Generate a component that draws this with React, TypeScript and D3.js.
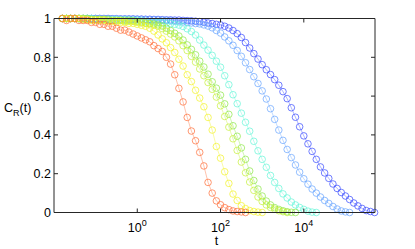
import React from 'react';
import * as d3 from 'd3';

// log10(t) sampling grid shared by every curve
const logT = [
  -1.8, -1.7, -1.6, -1.5, -1.4, -1.3, -1.2, -1.1, -1.0, -0.9, -0.8, -0.7, -0.6, -0.5, -0.4, -0.3, -0.2, -0.1,
  0, 0.1, 0.2, 0.3, 0.4, 0.5, 0.6, 0.7, 0.8, 0.9, 1.0, 1.1, 1.2, 1.3, 1.4, 1.5, 1.6, 1.7, 1.8, 1.9,
  2.0, 2.1, 2.2, 2.3, 2.4, 2.5, 2.6, 2.7, 2.8, 2.9, 3.0, 3.1, 3.2, 3.3, 3.4, 3.5, 3.6, 3.7, 3.8, 3.9,
  4.0, 4.1, 4.2, 4.3, 4.4, 4.5, 4.6, 4.7, 4.8, 4.9, 5.0, 5.1, 5.2, 5.3, 5.4, 5.5, 5.6, 5.7,
];

const orange = [
  1.00, 0.99, 1.00, 1.00, 0.99, 0.99, 0.99, 0.98, 0.98, 0.97, 0.97, 0.96, 0.96, 0.95, 0.94, 0.94, 0.93, 0.92,
  0.91, 0.90, 0.89, 0.88, 0.86, 0.845, 0.83, 0.80, 0.765, 0.71, 0.64, 0.57, 0.49, 0.42, 0.37, 0.31, 0.24, 0.155,
  0.10, 0.06, 0.04, 0.025, 0.015, 0.008, 0.005, 0.003, 0.0,
];

const yellow = [
  1.00, 1.00, 1.00, 1.00, 1.00, 0.995, 0.995, 0.99, 0.99, 0.99, 0.99, 0.985, 0.985, 0.98, 0.98, 0.98, 0.975, 0.975,
  0.97, 0.965, 0.96, 0.95, 0.935, 0.915, 0.895, 0.875, 0.85, 0.825, 0.79, 0.755, 0.71, 0.675, 0.63, 0.59, 0.545, 0.49,
  0.425, 0.34, 0.28, 0.21, 0.15, 0.095, 0.062, 0.035, 0.02, 0.01, 0.005, 0.002, 0.0,
];

const yellowGreen = [
  1.00, 1.00, 1.00, 1.00, 1.00, 1.00, 0.995, 0.995, 0.995, 0.995, 0.995, 0.99, 0.99, 0.99, 0.99, 0.985, 0.985, 0.985,
  0.98, 0.977, 0.975, 0.972, 0.966, 0.96, 0.948, 0.935, 0.92, 0.905, 0.885, 0.86, 0.835, 0.805, 0.775, 0.74, 0.705, 0.67,
  0.635, 0.595, 0.55, 0.495, 0.44, 0.38, 0.32, 0.26, 0.205, 0.157, 0.114, 0.08, 0.057, 0.039, 0.026, 0.017, 0.009, 0.004, 0.0,
];

const green = [
  1.00, 1.00, 1.00, 1.00, 1.00, 1.00, 1.00, 0.995, 0.995, 0.995, 0.995, 0.995, 0.99, 0.99, 0.99, 0.99, 0.99, 0.988,
  0.985, 0.982, 0.977, 0.974, 0.972, 0.967, 0.961, 0.95, 0.938, 0.924, 0.91, 0.889, 0.864, 0.841, 0.813, 0.78, 0.75, 0.713,
  0.674, 0.641, 0.605, 0.56, 0.506, 0.447, 0.393, 0.333, 0.274, 0.214, 0.165, 0.121, 0.085, 0.059, 0.039, 0.025, 0.016, 0.009,
  0.004, 0.001, 0.0,
];

const cyan = [
  1.00, 1.00, 1.00, 1.00, 1.00, 1.00, 1.00, 1.00, 0.995, 0.995, 0.995, 0.995, 0.995, 0.995, 0.993, 0.993, 0.992, 0.991,
  0.99, 0.988, 0.986, 0.984, 0.982, 0.98, 0.978, 0.976, 0.973, 0.97, 0.966, 0.959, 0.947, 0.933, 0.915, 0.889, 0.863, 0.837,
  0.81, 0.78, 0.749, 0.705, 0.659, 0.607, 0.561, 0.512, 0.465, 0.419, 0.367, 0.318, 0.274, 0.233, 0.191, 0.155, 0.124, 0.096,
  0.075, 0.054, 0.039, 0.026, 0.016, 0.007, 0.002, 0.0,
];

const lightBlue = [
  1.00, 1.00, 1.00, 1.00, 1.00, 1.00, 1.00, 1.00, 1.00, 1.00, 0.998, 0.998, 0.998, 0.997, 0.997, 0.997, 0.996, 0.996,
  0.995, 0.995, 0.994, 0.993, 0.993, 0.992, 0.991, 0.99, 0.988, 0.986, 0.984, 0.982, 0.979, 0.977, 0.974, 0.972, 0.967, 0.961,
  0.952, 0.938, 0.925, 0.905, 0.885, 0.862, 0.835, 0.805, 0.772, 0.737, 0.70, 0.665, 0.627, 0.585, 0.535, 0.48, 0.425, 0.372,
  0.325, 0.283, 0.245, 0.208, 0.174, 0.146, 0.121, 0.10, 0.08, 0.062, 0.047, 0.031, 0.018, 0.008, 0.003, 0.0,
];

const blue = [
  1.00, 1.00, 1.00, 1.00, 1.00, 1.00, 1.00, 1.00, 1.00, 1.00, 1.00, 1.00, 0.999, 0.999, 0.998, 0.998, 0.998, 0.998,
  0.997, 0.997, 0.996, 0.996, 0.995, 0.995, 0.994, 0.993, 0.993, 0.992, 0.992, 0.99, 0.989, 0.988, 0.986, 0.984, 0.981, 0.977,
  0.974, 0.97, 0.967, 0.96, 0.951, 0.938, 0.922, 0.902, 0.876, 0.848, 0.819, 0.791, 0.762, 0.736, 0.711, 0.685, 0.656, 0.623,
  0.587, 0.54, 0.491, 0.442, 0.395, 0.354, 0.315, 0.274, 0.235, 0.204, 0.176, 0.147, 0.124, 0.103, 0.085, 0.067, 0.049, 0.034,
  0.021, 0.01, 0.005, 0.0,
];

// drawn back to front
const series = [
  { name: 'blue', color: '#3b4cff', values: blue },
  { name: 'lightBlue', color: '#6aa6ff', values: lightBlue },
  { name: 'cyan', color: '#66f5d8', values: cyan },
  { name: 'green', color: '#8ee84a', values: green },
  { name: 'yellowGreen', color: '#c6f03c', values: yellowGreen },
  { name: 'yellow', color: '#f2f22a', values: yellow },
  { name: 'orange', color: '#ff6f3a', values: orange },
];

const yTicks = [0, 0.2, 0.4, 0.6, 0.8, 1];
const yTickLabels = ['0', '0.2', '0.4', '0.6', '0.8', '1'];
const xTickExps = [0, 2, 4];

export default function App() {
  const width = 415;
  const height = 249;
  const left = 54, right = 375, top = 18.5, bottom = 212.5;
  const font = '"Liberation Sans", Arial, Helvetica, sans-serif';

  const x = d3.scaleLog().domain([1e-2, Math.pow(10, 5.71)]).range([left, right]);
  const y = d3.scaleLinear().domain([0, 1]).range([bottom, top]);

  const line = d3.line<[number, number]>()
    .x(d => x(Math.pow(10, d[0])))
    .y(d => y(d[1]));

  const tick = 4;

  return (
    <svg width={width} height={height} style={{ position: 'absolute', left: 0, top: 0, background: '#fff' }}
      fontFamily={font}>
      <rect width={width} height={height} fill="#fff" />

      {series.map(s => {
        const pts = s.values.map((v, i) => [logT[i], v] as [number, number]);
        return (
          <g key={s.name} stroke={s.color} fill="none">
            <path d={line(pts) || ''} strokeWidth={0.6} strokeOpacity={0.7} />
            {pts.map((p, i) => (
              <circle key={i} cx={x(Math.pow(10, p[0]))} cy={y(p[1])} r={3.3} strokeWidth={0.85} strokeOpacity={0.85} />
            ))}
          </g>
        );
      })}

      {/* axes box */}
      <line x1={left} x2={right} y1={bottom} y2={bottom} stroke="#262626" strokeWidth={1} />
      <line x1={left} x2={right} y1={top} y2={top} stroke="#262626" strokeWidth={1} />
      <line x1={left} x2={left} y1={top} y2={bottom} stroke="#262626" strokeWidth={1} />
      <line x1={right} x2={right} y1={top} y2={bottom} stroke="#262626" strokeWidth={1} />

      {yTicks.map((t, i) => (
        <g key={'y' + t}>
          <line x1={left} x2={left + tick} y1={y(t)} y2={y(t)} stroke="#262626" />
          <line x1={right} x2={right - tick} y1={y(t)} y2={y(t)} stroke="#262626" />
          <text x={left - 3} y={y(t) + 4.5} textAnchor="end" fontSize={12.5} fill="#000">{yTickLabels[i]}</text>
        </g>
      ))}

      {xTickExps.map(e => {
        const px = x(Math.pow(10, e));
        return (
          <g key={'x' + e}>
            <line x1={px} x2={px} y1={bottom} y2={bottom - tick} stroke="#262626" />
            <line x1={px} x2={px} y1={top} y2={top + tick} stroke="#262626" />
            <text x={px} y={232} textAnchor="middle" fontSize={12.5} fill="#000">
              10<tspan dy={-6} fontSize={9}>{e}</tspan>
            </text>
          </g>
        );
      })}

      <text x={(left + right) / 2 + 2} y={245} textAnchor="middle" fontSize={12.5} fill="#000">t</text>

      <text x={4} y={112} fontSize={12.5} fill="#000">
        C<tspan dy={4} fontSize={9}>R</tspan><tspan dy={-4}>(t)</tspan>
      </text>
    </svg>
  );
}
